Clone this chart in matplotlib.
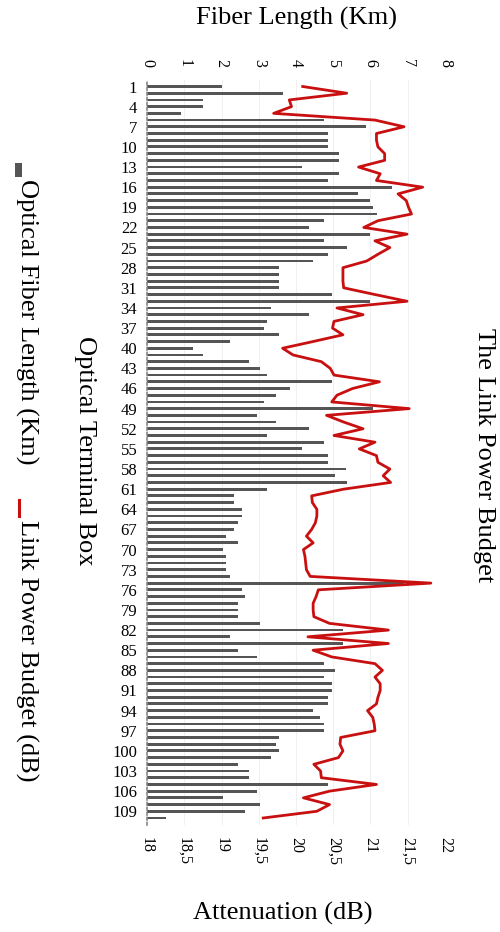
import matplotlib
matplotlib.use("Agg")
import matplotlib.pyplot as plt
from matplotlib.patches import Rectangle
from matplotlib.lines import Line2D

plt.rcParams['font.family'] = ['Liberation Serif', 'DejaVu Serif']

# ---- data ----
boxes = list(range(1, 111))
fiber_km = [2.01, 3.65, 1.51, 1.51, 0.90, 4.76, 5.87, 4.87, 4.87, 4.87, 5.16, 5.16, 4.16, 5.16, 4.87,
            6.59, 5.66, 5.98, 6.08, 6.17, 4.76, 4.36, 5.98, 4.76, 5.37, 4.87,
            4.45, 3.55, 3.55, 3.55, 3.55, 4.96, 5.98, 3.34, 4.35, 3.23, 3.15, 3.55, 2.23, 1.23, 1.51,
            2.73, 3.04, 3.23, 4.96, 3.84, 3.45, 3.15, 6.08, 2.95, 3.45, 4.35,
            3.23, 4.76, 4.16, 4.87, 4.87, 5.35, 5.05, 5.37, 3.23, 2.34, 2.34, 2.54, 2.54, 2.44, 2.34,
            2.12, 2.44, 2.03, 2.12, 2.12, 2.12, 2.23, 6.89, 2.54, 2.63,
            2.44, 2.44, 2.44, 3.04, 5.26, 2.23, 5.26, 2.44, 2.95, 4.76, 5.05, 4.76, 4.96, 4.96, 4.87,
            4.87, 4.45, 4.65, 4.76, 4.76, 3.55, 3.45, 3.55, 3.34, 2.44, 2.73, 2.73, 4.87, 2.95, 2.03,
            3.04, 2.63, 0.51]
budget_db = [20.09, 20.68, 19.91, 19.94, 19.70, 21.06, 21.45, 21.08, 21.08, 21.10, 21.19, 21.19, 20.84,
             21.13, 21.08, 21.70, 21.37, 21.48, 21.51, 21.55, 21.10, 20.91, 21.49, 21.06, 21.26, 21.10,
             20.95, 20.63, 20.63, 20.63, 20.64, 21.06, 21.49, 20.55, 20.90, 20.51, 20.49, 20.63, 20.23,
             19.82, 19.96, 20.34, 20.46, 20.51, 21.12, 20.76, 20.55, 20.48, 21.52, 20.41, 20.64, 20.90,
             20.51, 21.06, 20.85, 21.08, 21.10, 21.26, 21.17, 21.27, 20.64, 20.21, 20.22, 20.28, 20.28,
             20.26, 20.21, 20.14, 20.23, 20.10, 20.12, 20.13, 20.14, 20.19, 21.81, 20.30, 20.27,
             20.23, 20.23, 20.24, 20.45, 21.24, 20.16, 21.24, 20.23, 20.48, 21.06, 21.16, 21.06, 21.13,
             21.13, 21.10, 21.08, 20.96, 21.03, 21.05, 21.06, 20.60, 20.59, 20.63, 20.57, 20.24, 20.33,
             20.34, 21.08, 20.45, 20.10, 20.45, 20.28, 19.56]
km_ticks = [0, 1, 2, 3, 4, 5, 6, 7, 8]
db_ticks = [18, 18.5, 19, 19.5, 20, 20.5, 21, 21.5, 22]
db_labels = ["18", "18,5", "19", "19,5", "20", "20,5", "21", "21,5", "22"]
box_ticks = list(range(1, 111, 3))

W, H = 500, 932
fig = plt.figure(figsize=(W / 100, H / 100), dpi=100)

def fx(x):
    return x / W

def fy(y):
    return 1 - y / H

top_px, bot_px = 79.8, 824.7
left_px, right_px = 147, 445
ax = fig.add_axes([fx(left_px), fy(bot_px), (right_px - left_px) / W, (bot_px - top_px) / H])
ax2 = ax.twiny()

ax.barh(boxes, fiber_km, height=0.42, color='#555555', zorder=2)
ax.set_xlim(0, 8)
ax.set_ylim(111, 0)
ax.xaxis.tick_top()
ax.set_xticks(km_ticks)
ax.set_xticklabels([str(t) for t in km_ticks], rotation=-90, fontsize=11.5)
ax.set_yticks(box_ticks)
ax.set_yticklabels([str(t) for t in box_ticks], fontsize=12)
ax.tick_params(axis='x', length=0, pad=9, top=True, bottom=False, labeltop=True, labelbottom=False)
ax.tick_params(axis='y', length=0, pad=7)
ax.grid(axis='x', color='#f0f0f0', linewidth=0.8, zorder=0)
ax.set_axisbelow(True)
for s in ['top', 'right', 'bottom']:
    ax.spines[s].set_visible(False)
ax.spines['left'].set_linestyle((0, (1.5, 1.5)))
ax.spines['left'].set_color('#888888')
ax.spines['left'].set_linewidth(1.2)

ax2.plot(budget_db, boxes, color='#c81010', linewidth=2.0, zorder=3)
ax2.set_xlim(18, 22)
ax2.set_xticks(db_ticks)
ax2.set_xticklabels(db_labels, rotation=-90, fontsize=11.5)
ax2.tick_params(axis='x', length=0, pad=9, top=False, bottom=True, labeltop=False, labelbottom=True)
for s in ax2.spines.values():
    s.set_visible(False)

# titles / labels
fig.text(fx(297), fy(18), "Fiber Length (Km)", fontsize=19, ha='center', va='center')
fig.text(fx(283), fy(913), "Attenuation (dB)", fontsize=19, ha='center', va='center')
fig.text(fx(484), fy(328), "The Link Power Budget", fontsize=19, rotation=-90,
         ha='center', va='top')
fig.text(fx(85), fy(336), "Optical Terminal Box", fontsize=19, rotation=-90,
         ha='center', va='top')

# rotated legend on the left
fig.patches.append(Rectangle((fx(15), fy(177)), 7 / W, 14 / H, transform=fig.transFigure,
                             facecolor='#555555', edgecolor='none'))
fig.text(fx(27), fy(179), "Optical Fiber Length (Km)", fontsize=19, rotation=-90,
         ha='center', va='top')
fig.lines.append(Line2D([fx(19), fx(19)], [fy(500), fy(516)], transform=fig.transFigure,
                        color='#c81010', linewidth=2.2))
fig.text(fx(27), fy(520), "Link Power Budget (dB)", fontsize=19, rotation=-90,
         ha='center', va='top')

fig.savefig("out.png", dpi=100)
